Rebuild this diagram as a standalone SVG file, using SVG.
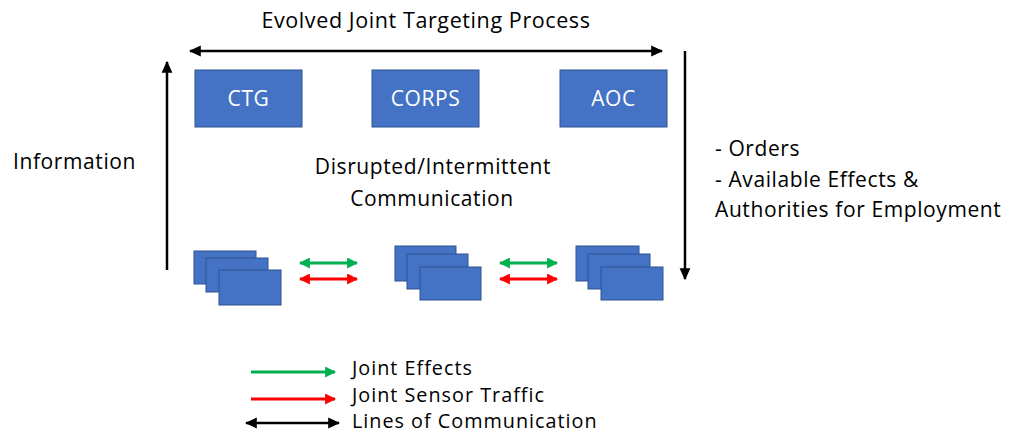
<svg xmlns="http://www.w3.org/2000/svg" width="1013" height="433" viewBox="0 0 1013 433">
<style>
text{font-family:"Open Sans","DejaVu Sans",sans-serif;font-size:21px;letter-spacing:0.6px;fill:#000}
.ttl{font-size:21.5px}
.leg{font-size:19.8px;letter-spacing:1px}
.box{fill:#4472C4;stroke:#2F528F;stroke-width:1}
.lbl{fill:#fff;text-anchor:middle}
.blk{stroke:#000;stroke-width:2.5;fill:none}
.grn{stroke:#00B050;stroke-width:3;fill:none}
.red{stroke:#FF0000;stroke-width:3;fill:none}
</style>
<defs>
<marker id="hb" markerUnits="userSpaceOnUse" markerWidth="12" markerHeight="12" viewBox="0 0 10 10" refX="9" refY="5" orient="auto-start-reverse"><path d="M0,0.5 L10,5 L0,9.5 Z" fill="#000"/></marker>
<marker id="hg" markerUnits="userSpaceOnUse" markerWidth="11" markerHeight="11" viewBox="0 0 10 10" refX="9" refY="5" orient="auto-start-reverse"><path d="M0,0 L10,5 L0,10 Z" fill="#00B050"/></marker>
<marker id="hr" markerUnits="userSpaceOnUse" markerWidth="11" markerHeight="11" viewBox="0 0 10 10" refX="9" refY="5" orient="auto-start-reverse"><path d="M0,0 L10,5 L0,10 Z" fill="#FF0000"/></marker>
</defs>
<rect width="1013" height="433" fill="#fff"/>
<text class="ttl" x="426" y="28" text-anchor="middle">Evolved Joint Targeting Process</text>
<text x="13" y="169">Information</text>
<text x="433" y="174" text-anchor="middle">Disrupted/Intermittent</text>
<text x="432" y="206" text-anchor="middle">Communication</text>
<text x="715" y="156">- Orders</text>
<text x="715" y="187">- Available Effects &amp;</text>
<text x="715" y="217">Authorities for Employment</text>
<g id="ctg"><rect class="box" x="195" y="70" width="107" height="57"/><text class="lbl" x="248.5" y="106">CTG</text></g>
<g id="corps"><rect class="box" x="372" y="70" width="107" height="57"/><text class="lbl" x="425.5" y="106">CORPS</text></g>
<g id="aoc"><rect class="box" x="560" y="70" width="107" height="57"/><text class="lbl" x="613.5" y="106">AOC</text></g>
<g id="stack1">
<rect class="box" x="194" y="251" width="62" height="33"/>
<rect class="box" x="206" y="258" width="62" height="34"/>
<rect class="box" x="219" y="270" width="62" height="35"/>
</g>
<g id="stack2">
<rect class="box" x="395" y="246" width="61" height="35"/>
<rect class="box" x="407" y="254" width="61" height="35"/>
<rect class="box" x="420" y="267" width="61" height="33"/>
</g>
<g id="stack3">
<rect class="box" x="576" y="246" width="63" height="35"/>
<rect class="box" x="588" y="254" width="62" height="35"/>
<rect class="box" x="601" y="267" width="62" height="33"/>
</g>
<g id="connectors">
<line class="blk" x1="190" y1="51" x2="662" y2="51" marker-start="url(#hb)" marker-end="url(#hb)"/>
<line class="blk" x1="167" y1="270" x2="167" y2="62" marker-end="url(#hb)"/>
<line class="blk" x1="685" y1="51" x2="685" y2="279" marker-end="url(#hb)"/>
<line class="grn" x1="300" y1="263" x2="357" y2="263" marker-start="url(#hg)" marker-end="url(#hg)"/>
<line class="red" x1="300" y1="279" x2="357" y2="279" marker-start="url(#hr)" marker-end="url(#hr)"/>
<line class="grn" x1="500" y1="263" x2="557" y2="263" marker-start="url(#hg)" marker-end="url(#hg)"/>
<line class="red" x1="500" y1="279" x2="557" y2="279" marker-start="url(#hr)" marker-end="url(#hr)"/>
</g>
<g id="legend">
<line class="grn" x1="251" y1="372" x2="335" y2="372" marker-end="url(#hg)"/>
<line class="red" x1="251" y1="399" x2="335" y2="399" marker-end="url(#hr)"/>
<line class="blk" x1="246" y1="423" x2="339" y2="423" marker-start="url(#hb)" marker-end="url(#hb)"/>
<text class="leg" x="352" y="375">Joint Effects</text>
<text class="leg" x="352" y="402">Joint Sensor Traffic</text>
<text class="leg" x="352" y="428">Lines of Communication</text>
</g>
</svg>
